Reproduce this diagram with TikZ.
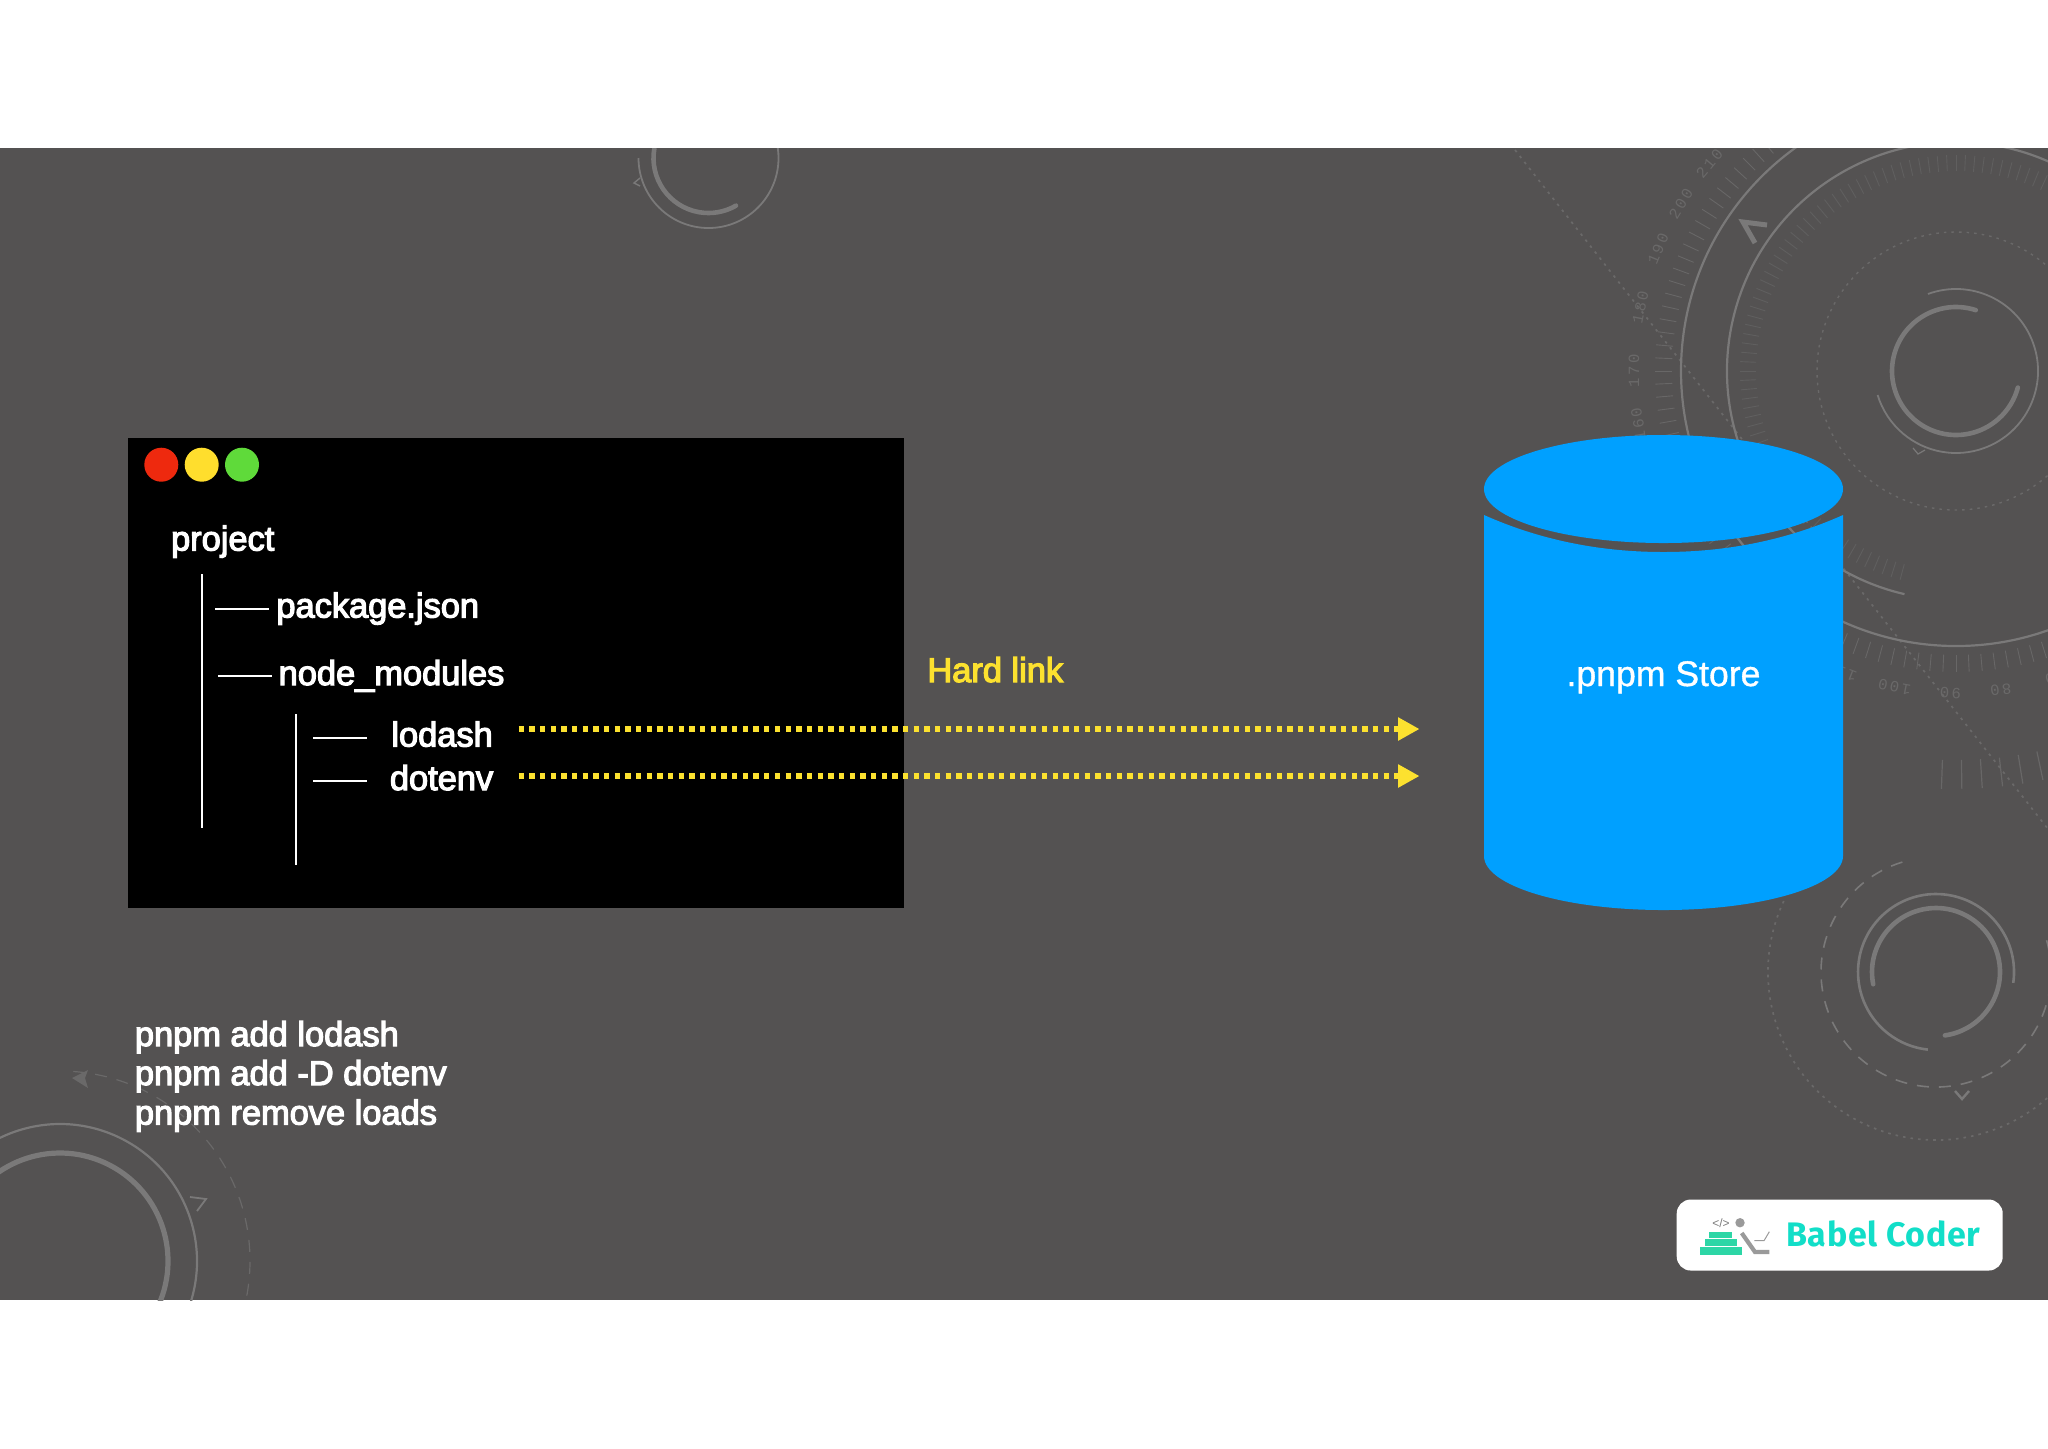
\documentclass[tikz,border=0pt]{standalone}
\usepackage{fontspec}
\setmainfont{Liberation Sans}
\newfontfamily\medfont[FakeBold=3.5]{Liberation Sans}
\newfontfamily\storefont[FakeBold=1]{Liberation Sans}
\newfontfamily\gaugefont[LetterSpace=15]{Liberation Mono}
\newfontfamily\logofont[LetterSpace=2]{Fira Sans}
\usetikzlibrary{arrows.meta}
\definecolor{bandgray}{HTML}{545252}
\definecolor{faint}{HTML}{6A6969}
\definecolor{tickgray}{HTML}{686767}
\definecolor{innertick}{HTML}{605F5F}
\definecolor{arcgray}{HTML}{7A7979}
\definecolor{cylblue}{HTML}{00A0FF}
\definecolor{hlyellow}{HTML}{FCE12F}
\definecolor{logogreen}{HTML}{2DD6A6}
\definecolor{logoteal}{HTML}{12DEC8}
\definecolor{logogray}{HTML}{9A9A9A}
\definecolor{dotred}{RGB}{238,41,14}
\definecolor{dotyellow}{RGB}{255,222,45}
\definecolor{dotgreen}{RGB}{95,218,58}
\tikzset{
  treeline/.style={white,line width=1pt},
  treetext/.style={anchor=base west,inner sep=0pt,text=white,font=\medfont\fontsize{17.2}{20}\selectfont},
  linkarrow/.style={hlyellow,line width=2.65pt,dash pattern=on 2.67pt off 2.67pt,
    -{Triangle[length=10.7pt,width=11pt,sep=0pt]}},
  thinarc/.style={arcgray,line width=1.1pt},
  thickarc/.style={arcgray,line width=2.3pt,line cap=round},
  dotarc/.style={faint,line width=0.85pt,dash pattern=on 1.3pt off 2.5pt},
  dasharc/.style={arcgray,line width=0.8pt,dash pattern=on 6pt off 5pt},
  tickmark/.style={tickgray,line width=0.45pt},
  gaugelabel/.style={inner sep=0pt,text=faint,font=\gaugefont\fontsize{7.8}{8}\selectfont},
  chevron/.style={arcgray,line width=1.2pt}
}
\begin{document}
\begin{tikzpicture}[x=0.5pt,y=-0.5pt]
\useasboundingbox (0,0) rectangle (2048,1448);
\fill[white] (0,0) rectangle (2048,1448);
\fill[bandgray] (0,148) rectangle (2048,1300);
% ---------- background gauges ----------
\begin{scope}
\clip (0,148) rectangle (2048,1300);
\draw[dotarc] (1515,150) -- (2048,829);
% top right gauge
\begin{scope}[shift={(1956,371)},y=0.5pt]
  \draw[thinarc] (0,0) circle (275);
  \draw[thinarc] (257:229) arc (257:40:229);
  \draw[dotarc,line width=0.7pt] (0,0) circle (139);
  \draw[thickarc] (72:64) arc (72:345:64);
  \draw[thinarc,line width=0.9pt] (110:82) arc (110:-163:82);
  \foreach \a in {60,62.5,...,255} \draw[tickmark,innertick] (\a:200) -- (\a:216);
  \foreach \a in {125,127.5,...,320} \draw[tickmark] (\a:284) -- (\a:301);
  \foreach \a in {268,270.8,...,283} \draw[tickmark,line width=0.6pt] (\a:389) -- (\a:418);
  \foreach \n/\a in {110/249,100/259,90/269,80/278,70/288,160/189.5,170/180,180/168.6,190/157.7,200/148.7,210/140}{
    \pgfmathsetmacro{\rr}{\a-90}
    \node[gaugelabel,rotate=\rr] (g\n) at (\a:322) {\n};
  }
\end{scope}
\draw[chevron,line width=2.5pt] (1767,225) -- (1743,222) -- (1755,243);
\draw[chevron,line width=0.6pt] (1913,448) -- (1918,454) -- (1925,450);
% lower right gauge
\begin{scope}[shift={(1936,972)},y=0.5pt]
  \draw[thickarc] (191:64) arc (191:-82:64);
  \draw[thinarc,line width=1.3pt] (-8:78) arc (-8:264:78);
  \draw[dasharc] (107:115) arc (107:380:115);
  \draw[dotarc] (155:168) arc (155:330:168);
\end{scope}
\draw[chevron] (1955,1091) -- (1962,1099) -- (1969,1091);
% top centre gauge
\begin{scope}[shift={(708.5,158)},y=0.5pt]
  \draw[thinarc,line width=0.9pt] (180:70) arc (180:360:70);
  \draw[thinarc,line width=0.9pt] (0:70) arc (0:30:70);
  \draw[thickarc] (170:55) arc (170:300:55);
\end{scope}
\draw[chevron,line width=0.7pt] (640,178) -- (634,183) -- (640,186);
% bottom left gauge
\begin{scope}[shift={(60,1261)},y=0.5pt]
  \draw[thinarc] (150:137) arc (150:-30:137);
  \draw[thickarc,line width=2.6pt] (150:108) arc (150:-30:108);
  \draw[dasharc,faint,line width=0.6pt] (86:190) arc (86:-30:190);
\end{scope}
\fill[faint] (72,1078) -- (88,1070) -- (85,1078) -- (88,1088) -- cycle;
\draw[chevron,line width=0.9pt] (190,1197) -- (206,1199) -- (197,1211);
\end{scope}
% ---------- terminal window ----------
\fill[black] (128,437.5) rectangle (904,908);
\fill[dotred] (161.3,464.7) circle (17);
\fill[dotyellow] (201.7,464.7) circle (17);
\fill[dotgreen] (242,464.7) circle (17);
\node[treetext] (project) at (170.7,550.5) {project};
\node[treetext] (pkg) at (276,617.5) {package.json};
\node[treetext] (nm) at (278.3,685) {node\_modules};
\node[treetext] (lodash) at (391,746.5) {lodash};
\node[treetext] (dotenv) at (389.5,790) {dotenv};
\coordinate (t1a) at (201.7,574); \coordinate (t1b) at (201.7,828);
\coordinate (t2a) at (295.7,714); \coordinate (t2b) at (295.7,865);
\draw[treeline] (t1a) -- (t1b);
\draw[treeline] (t2a) -- (t2b);
\coordinate (p1) at (215.3,609); \coordinate (n1) at (218.3,676);
\coordinate (l1) at (313.4,737.5); \coordinate (d1) at (313.4,780.5);
\draw[treeline] (p1) -- ++(53.7,0);
\draw[treeline] (n1) -- ++(53.7,0);
\draw[treeline] (l1) -- ++(53.6,0);
\draw[treeline] (d1) -- ++(53.6,0);
% ---------- cylinder ----------
\fill[cylblue] (1484,515) .. controls (1540,540) and (1600,552) .. (1663.5,552)
  .. controls (1727,552) and (1787,540) .. (1843,515)
  -- (1843,856) arc[start angle=0,end angle=180,x radius=179.5,y radius=54] -- cycle;
\fill[cylblue] (1663.5,489) ellipse [x radius=179.5,y radius=54];
\node[inner sep=0pt,anchor=base,text=white,font=\storefont\fontsize{17.8}{20}\selectfont] (store) at (1663.5,686) {.pnpm Store};
% ---------- hard links ----------
\node[anchor=base west,inner sep=0pt,text=hlyellow,font=\medfont\fontsize{17.2}{20}\selectfont] (hard) at (927,682) {Hard link};
\coordinate (a1s) at (518.5,729); \coordinate (a1e) at (1419.5,729);
\coordinate (a2s) at (518.5,776); \coordinate (a2e) at (1419.5,776);
\draw[linkarrow] (a1s) -- (a1e);
\draw[linkarrow] (a2s) -- (a2e);
% ---------- commands ----------
\node[treetext] (c1) at (134.5,1046) {pnpm add lodash};
\node[treetext] (c2) at (134.5,1085) {pnpm add -D dotenv};
\node[treetext] (c3) at (134.5,1124.5) {pnpm remove loads};
% ---------- logo ----------
\fill[white,rounded corners=7pt] (1676.7,1199.5) rectangle (2002.7,1270.5);
\fill[logogreen] (1700,1247.3) rectangle (1741.7,1255);
\fill[logogreen] (1705,1239) rectangle (1736.7,1246.3);
\fill[logogreen] (1709.3,1231.7) rectangle (1732.3,1238);
\fill[logogray] (1740,1222.7) circle (4.7);
\draw[logogray,line width=2.1pt] (1741.7,1233) -- (1755,1252) -- (1769.3,1252);
\draw[logogray,line width=0.5pt] (1754.3,1240.7) -- (1764,1240.7) -- (1769.3,1231.7);
\node[inner sep=0pt,text=logogray!80!black,font=\fontsize{6}{6}\selectfont] (tag) at (1721,1222.7) {</>};
\node[anchor=base west,inner sep=0pt,text=logoteal,font=\logofont\fontsize{17}{20}\selectfont\bfseries] (babel) at (1785.7,1246) {Babel Coder};
\end{tikzpicture}
\end{document}
